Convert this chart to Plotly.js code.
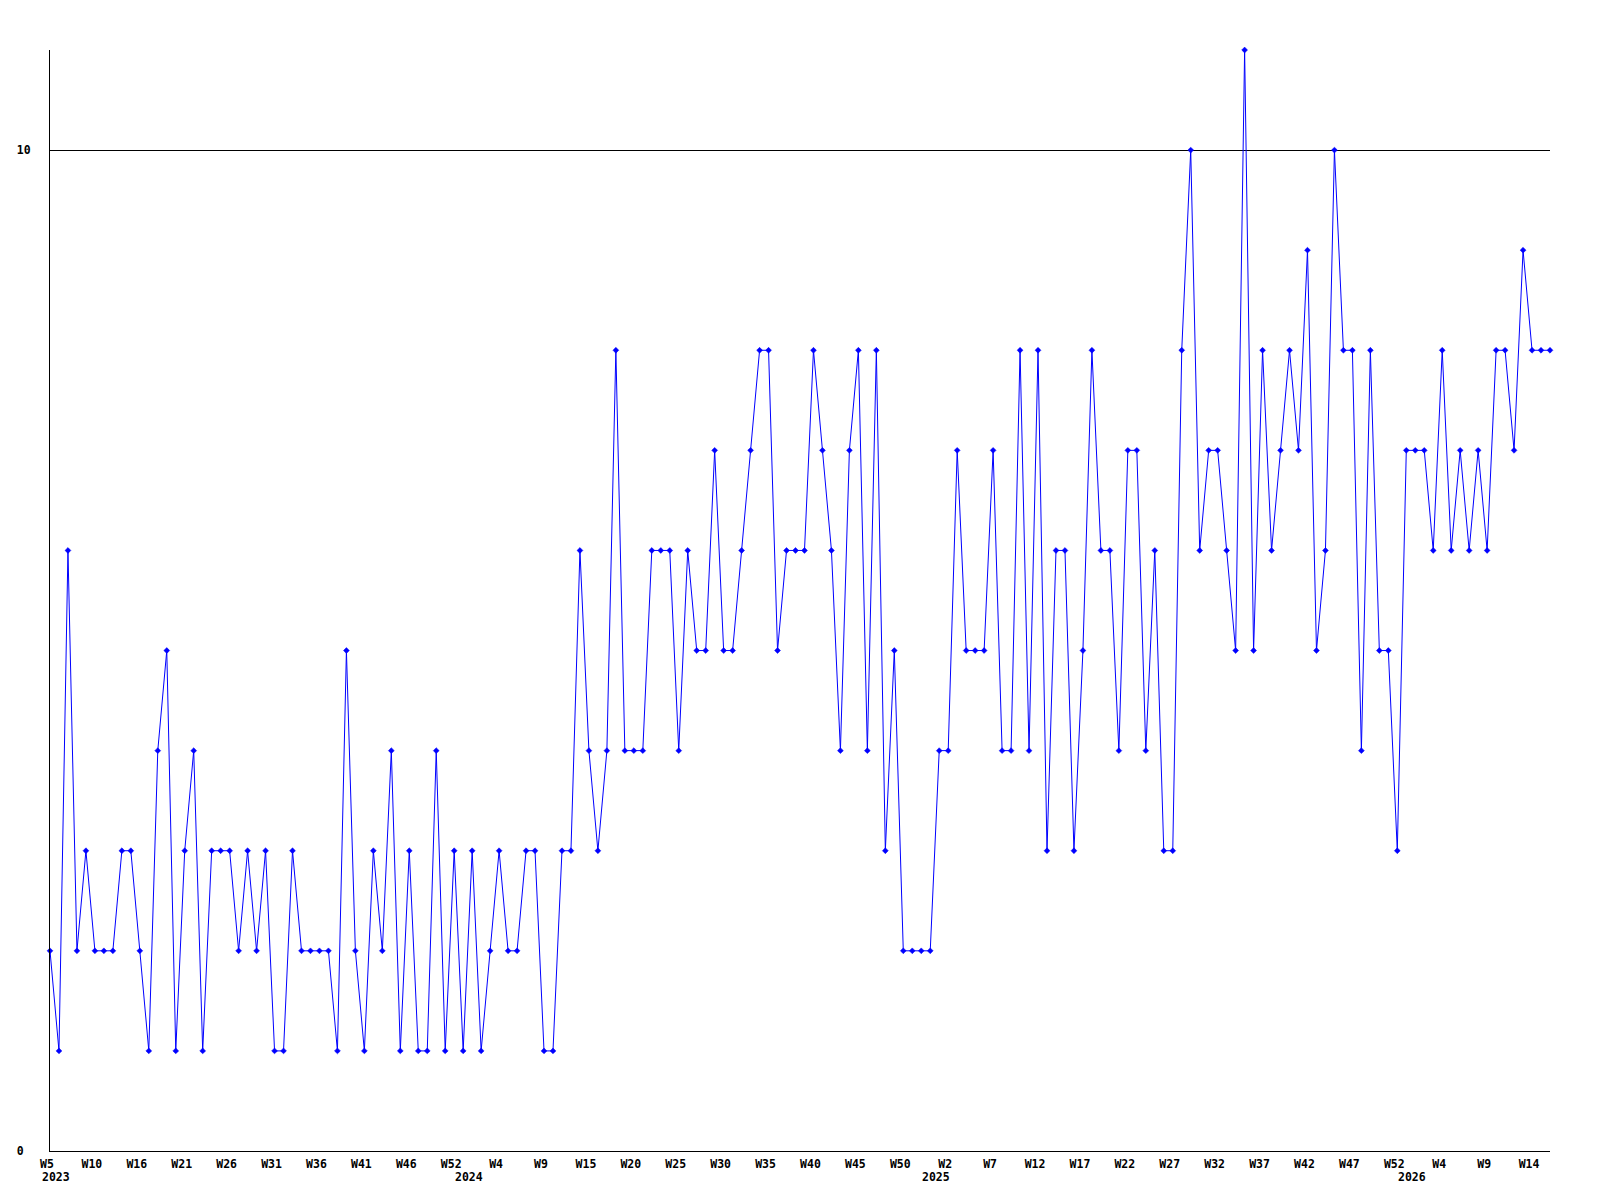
<!DOCTYPE html>
<html>
<head>
<meta charset="utf-8">
<script src="https://cdn.plot.ly/plotly-3.0.1.min.js"></script>
<style>html,body{margin:0;padding:0;background:#fff}</style>
</head>
<body>
<div id="chart" style="width:1600px;height:1200px"></div>
<script>
// Weekly values, 2023 W5 onward (one per week)
const values = [
  2,1,6,2,3,2,2,2,3,3,2,1,4,5,1,3,4,1,3,3,3,
  2,3,2,3,1,1,3,2,2,2,2,1,5,2,1,3,2,4,1,3,1,1,
  4,1,3,1,3,1,2,3,2,2,3,3,1,1,3,3,6,4,3,4,8,
  4,4,4,6,6,6,4,6,5,5,7,5,5,6,7,8,8,5,6,6,6,
  8,7,6,4,7,8,4,8,3,5,2,2,2,2,4,4,7,5,5,5,7,
  4,4,8,4,8,3,6,6,3,5,8,6,6,4,7,7,4,6,3,3,8,10,
  6,7,7,6,5,11,5,8,6,7,8,7,9,5,6,10,8,8,4,8,5,
  5,3,7,7,7,6,8,6,7,6,7,6,8,8,7,9,8,8,
  8
];
// Week tick labels (one every 5 weeks)
const weekTickLabels = [
  "W5","W10","W16","W21","W26","W31","W36","W41","W46","W52",
  "W4","W9","W15","W20","W25","W30","W35","W40","W45","W50",
  "W2","W7","W12","W17","W22","W27","W32","W37","W42","W47",
  "W52","W4","W9","W14"
];
const yearLabels = ["2023","2024","2025","2026"];
const yearStartWeek = [0, 46, 98, 151];
const yTickValues = [0, 10];
const yTickLabels = ["0\u00a0", "10"];

const TICK_EVERY = 5;
const xIdx = values.map((_, i) => i);
const xTickVals = weekTickLabels.map((_, k) => k * TICK_EVERY);

const tickFont = {family: "DejaVu Sans Mono", size: 11.5, color: "#000", weight: "bold"};

const trace = {
  x: xIdx,
  y: values,
  type: "scatter",
  mode: "lines+markers",
  line: {color: "#0000ff", width: 1},
  marker: {color: "#0000ff", size: 4.5, symbol: "diamond", line: {color: "#0000ff", width: 0.5}},
  hoverinfo: "skip",
  cliponaxis: false
};

const annotations = yearLabels.map((t, i) => ({
  text: t,
  x: yearStartWeek[i],
  xref: "x",
  y: 0,
  yref: "paper",
  xanchor: "left",
  yanchor: "middle",
  xshift: -10,
  yshift: -26,
  showarrow: false,
  font: tickFont
}));

const layout = {
  width: 1600,
  height: 1200,
  margin: {l: 50, r: 50, t: 50, b: 49, pad: 0},
  paper_bgcolor: "#fff",
  plot_bgcolor: "#fff",
  showlegend: false,
  xaxis: {
    range: [0, values.length - 1],
    showgrid: false,
    zeroline: false,
    showline: true,
    linecolor: "#000",
    linewidth: 1,
    ticks: "",
    tickvals: xTickVals,
    ticktext: weekTickLabels,
    tickfont: tickFont,
    tickangle: 0,
    ticklabelshift: -3,
    ticklabelstandoff: 2,
    fixedrange: true
  },
  yaxis: {
    range: [0, 11],
    showgrid: true,
    gridcolor: "#000",
    gridwidth: 1,
    zeroline: false,
    showline: true,
    linecolor: "#000",
    linewidth: 1,
    ticks: "",
    tickvals: yTickValues,
    ticktext: yTickLabels,
    tickfont: tickFont,
    ticklabelstandoff: 16,
    fixedrange: true
  },
  annotations: annotations
};

Plotly.newPlot("chart", [trace], layout, {staticPlot: true, displayModeBar: false});
</script>
</body>
</html>
